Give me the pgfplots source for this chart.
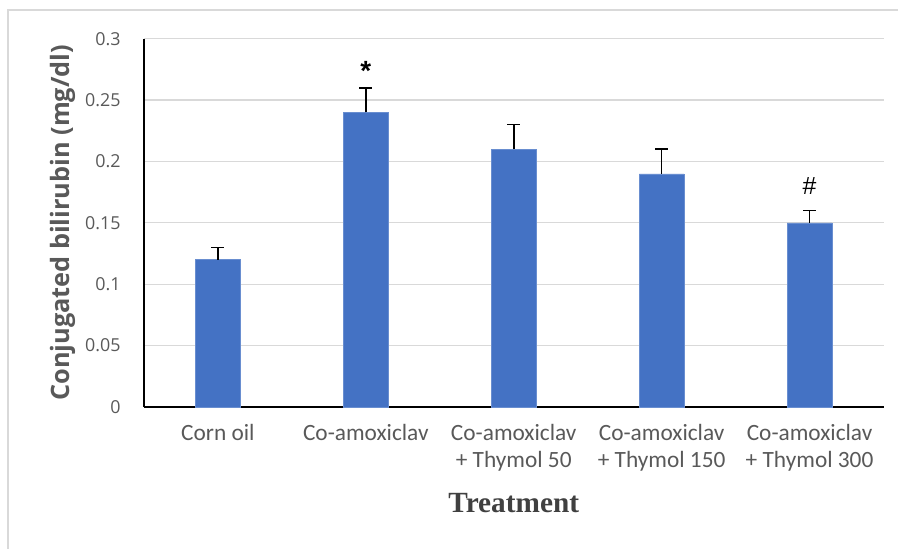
\documentclass[border=0pt]{standalone}
\usepackage{pgfplots}
\pgfplotsset{compat=1.18}
\usepackage{fontspec}
\setmainfont{Carlito}
\newfontfamily\osans{Open Sans}
\newfontfamily\lsans{Liberation Sans}
\newfontfamily\tserif{Liberation Serif}
\definecolor{barblue}{HTML}{4472C4}
\definecolor{txtgray}{HTML}{595959}
\definecolor{gridgray}{HTML}{D9D9D9}
\begin{document}
\begin{tikzpicture}[x=1pt,y=1pt]
% frame of the picture
\path (0,0) rectangle (899,548);
\draw[gridgray, line width=1.2pt] (8,-5) -- (8,538) -- (905,538);
\begin{axis}[
  at={(145pt,138pt)}, anchor=south west,
  scale only axis, width=745pt, height=371pt,
  xmin=-0.5, xmax=4.5, ymin=0, ymax=0.3,
  ytick={0,0.05,...,0.3},
  yticklabels={0,0.05,0.1,0.15,0.2,0.25,0.3},
  xtick=data,
  xticklabels={Corn oil, Co-amoxiclav, Co-amoxiclav\\+ Thymol 50, Co-amoxiclav\\+ Thymol 150, Co-amoxiclav\\+ Thymol 300},
  xticklabel style={align=center, font=\fontsize{23.5}{27}\selectfont, text=txtgray, yshift=-14pt},
  yticklabel style={font=\osans\fontsize{18}{22}\selectfont, text=txtgray, xshift=-20pt},
  ymajorgrids, major grid style={gridgray, line width=1.2pt},
  axis x line*=bottom, axis y line*=left,
  x axis line style={black, line width=2pt, -},
  y axis line style={black, line width=1.5pt, -},
  tickwidth=0pt,
  ylabel={Conjugated bilirubin (mg/dl)},
  ylabel style={font=\osans\bfseries\fontsize{25.5}{28}\selectfont, text=txtgray, at={(axis description cs:-0.110,0.5)}, anchor=center},
  xlabel={Treatment},
  xlabel style={font=\tserif\bfseries\fontsize{29.5}{32}\selectfont, text=black!75, at={(axis description cs:0.5,-0.262)}, anchor=center},
]
\addplot[ybar, bar width=45pt, fill=barblue, draw=barblue!80!white,
  error bars/.cd, y dir=plus, y explicit,
  error bar style={black, line width=1.6pt},
  error mark options={rotate=90, mark size=6.5pt, line width=1.6pt, black}]
  table[x=x, y=y, y error=e] {
  x y e
  0 0.12 0.01
  1 0.24 0.02
  2 0.21 0.02
  3 0.19 0.02
  4 0.15 0.01
};
\node[font=\lsans\bfseries\fontsize{28}{28}\selectfont] at (axis cs:1,0.274) {*};
\node[font=\lsans\fontsize{25}{25}\selectfont] at (axis cs:4,0.180) {\#};
\end{axis}
\end{tikzpicture}
\end{document}
